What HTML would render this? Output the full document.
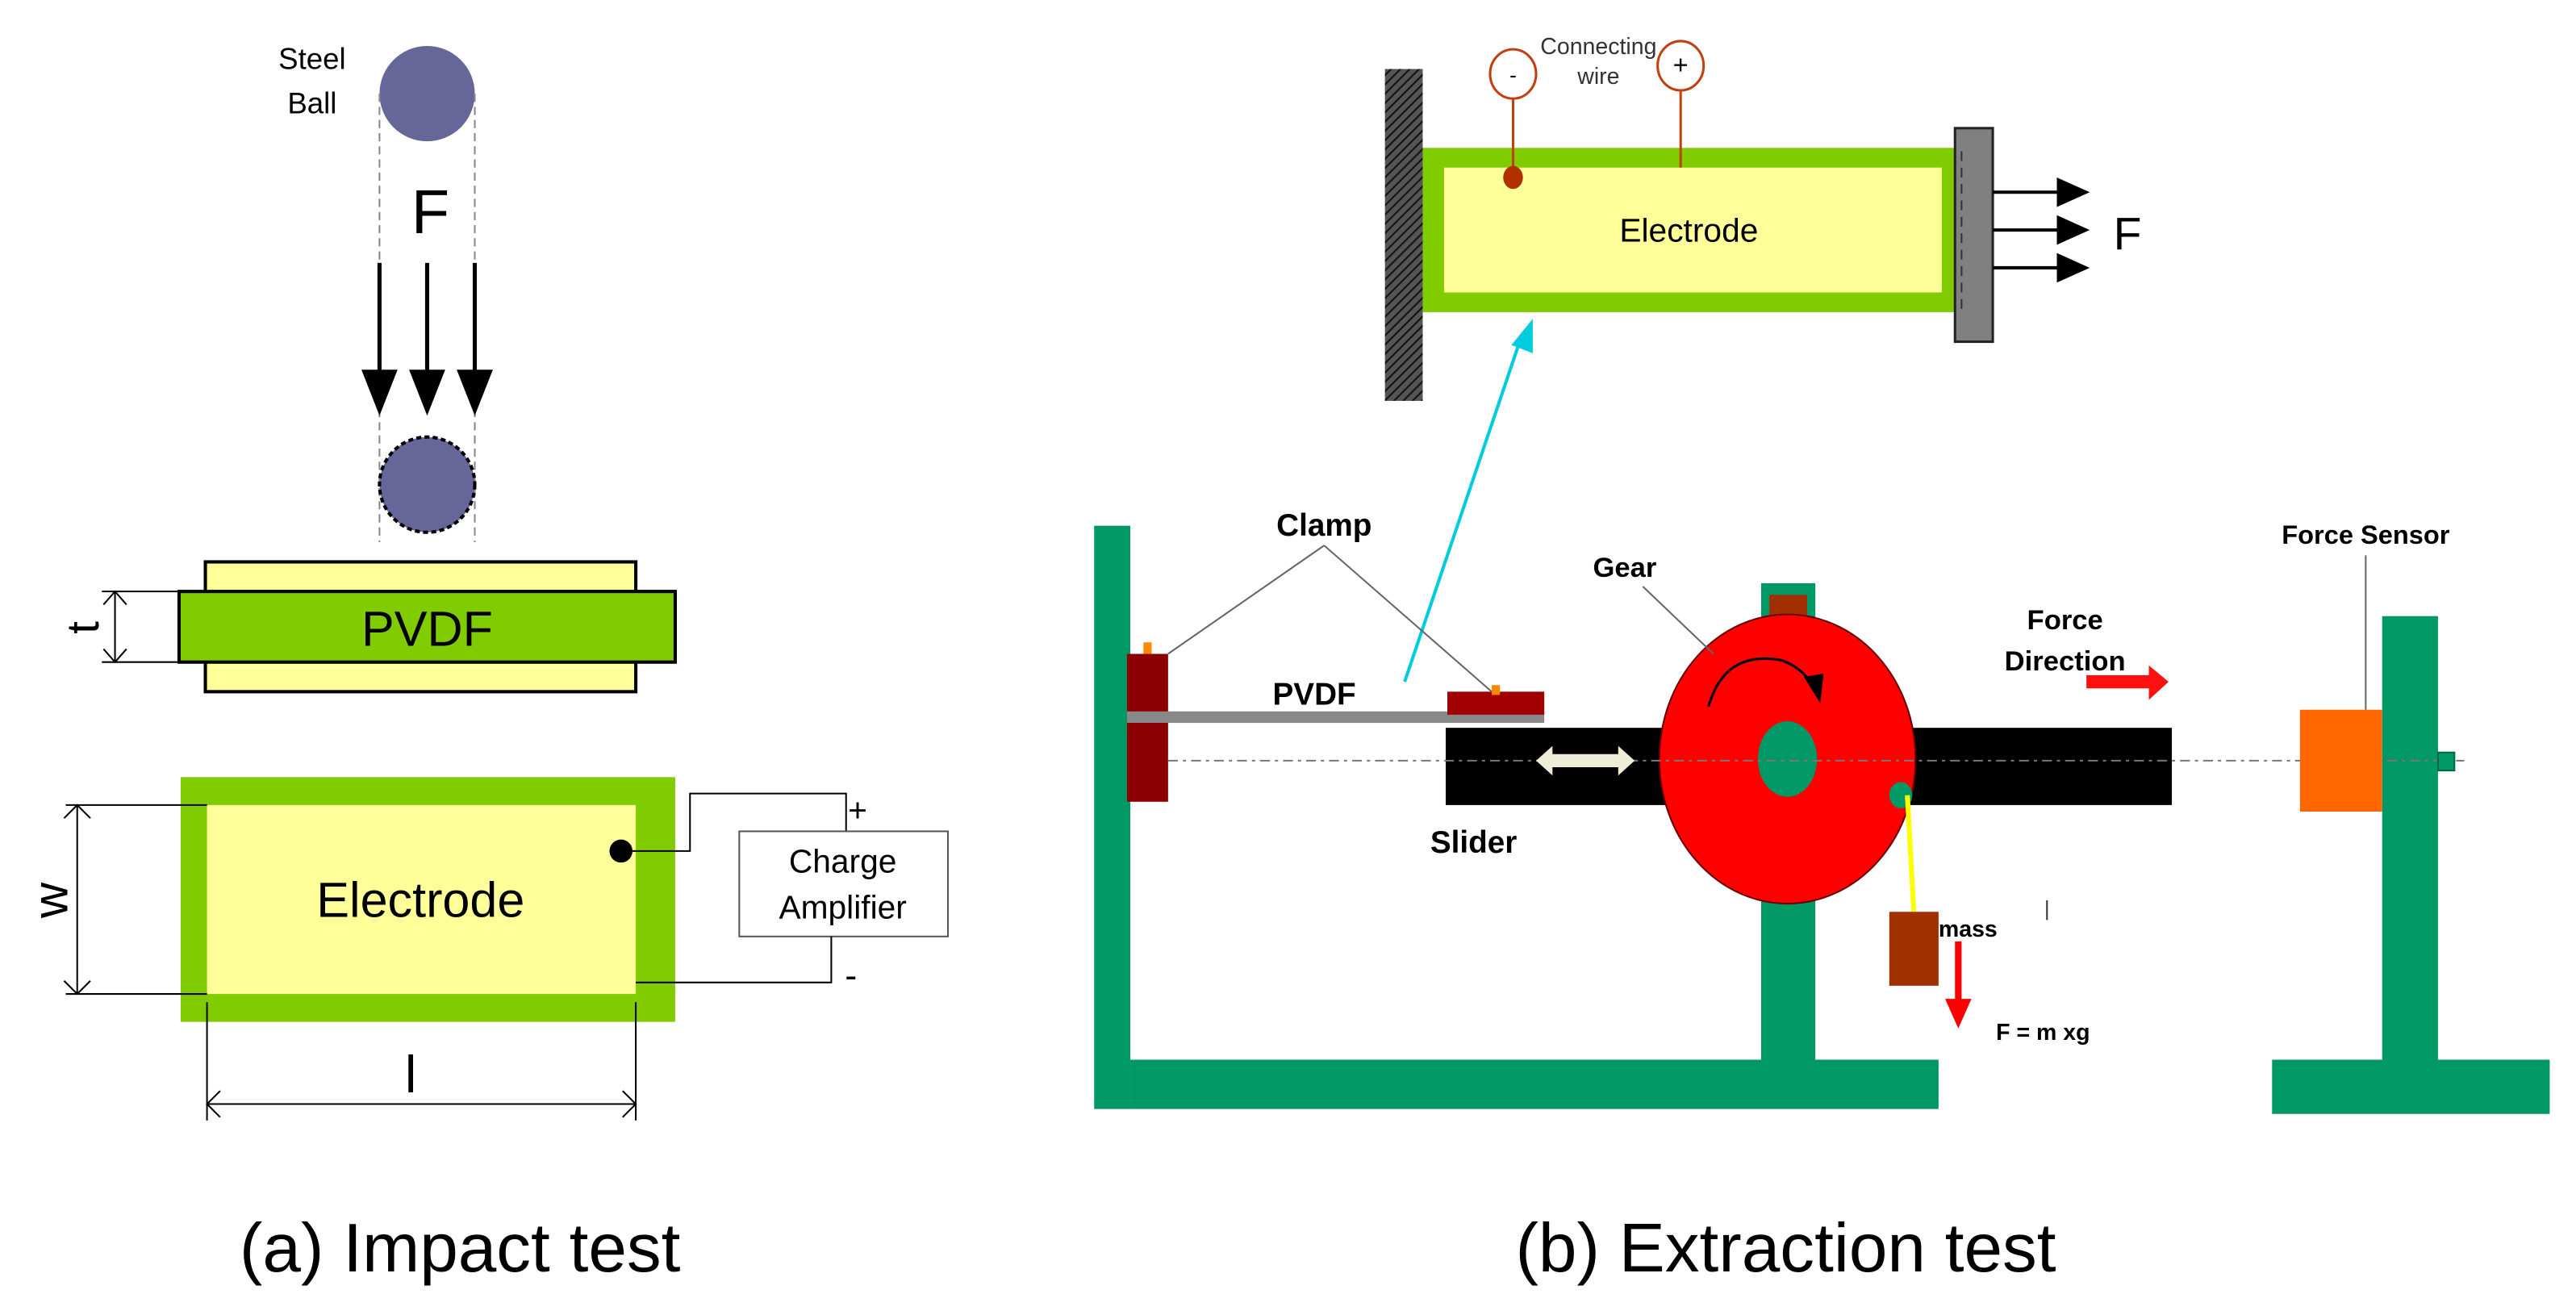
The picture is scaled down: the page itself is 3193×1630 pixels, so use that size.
<!DOCTYPE html>
<html><head><meta charset="utf-8"><style>
html,body{margin:0;padding:0;background:#fff;}
svg{display:block;}
text{font-family:"Liberation Sans",sans-serif;}
</style></head><body>
<svg width="3193" height="1630" viewBox="0 0 1568 800.4" preserveAspectRatio="none" xmlns="http://www.w3.org/2000/svg">
<defs>
<pattern id="hatch" width="4" height="4" patternUnits="userSpaceOnUse" patternTransform="rotate(45)">
<rect width="4" height="4" fill="#555"/><line x1="0" y1="0" x2="0" y2="4" stroke="#111" stroke-width="2"/>
</pattern>
</defs>
<rect width="1568" height="800.4" fill="#fff"/>

<!-- (a) -->
<text x="190" y="42" font-size="18" text-anchor="middle">Steel</text>
<text x="190" y="69" font-size="18" text-anchor="middle">Ball</text>
<circle cx="260" cy="57" r="29" fill="#666699"/>
<line x1="231" y1="57" x2="231" y2="330" stroke="#888" stroke-dasharray="5,3"/>
<line x1="289" y1="57" x2="289" y2="330" stroke="#888" stroke-dasharray="5,3"/>
<text x="262" y="142" font-size="38" text-anchor="middle">F</text>
<g stroke="#000" stroke-width="2.5">
<line x1="231" y1="160" x2="231" y2="232"/><line x1="260" y1="160" x2="260" y2="232"/><line x1="289" y1="160" x2="289" y2="232"/>
</g>
<g fill="#000">
<polygon points="220,225 242,225 231,253"/><polygon points="249,225 271,225 260,253"/><polygon points="278,225 300,225 289,253"/>
</g>
<circle cx="260" cy="295" r="29" fill="#666699" stroke="#000" stroke-width="2" stroke-dasharray="3,2"/>

<rect x="125" y="342" width="262" height="79" fill="#FFFF99" stroke="#000" stroke-width="2"/>
<rect x="109" y="360" width="302" height="43" fill="#80CC00" stroke="#000" stroke-width="2"/>
<text x="260" y="393" font-size="30" text-anchor="middle">PVDF</text>
<g stroke="#000" stroke-width="1" fill="none">
<line x1="62" y1="360" x2="109" y2="360"/><line x1="62" y1="403" x2="109" y2="403"/>
<line x1="70" y1="360" x2="70" y2="403"/>
<polyline points="63,368 70,360 77,368"/><polyline points="63,395 70,403 77,395"/>
</g>
<text x="0" y="0" font-size="28" text-anchor="middle" transform="translate(60,382) rotate(-90)">t</text>

<rect x="110" y="473" width="301" height="149" fill="#80CC00"/>
<rect x="126" y="490" width="261" height="115" fill="#FFFF99"/>
<text x="256" y="558" font-size="30" text-anchor="middle">Electrode</text>
<g stroke="#000" stroke-width="1" fill="none">
<line x1="40" y1="490" x2="126" y2="490"/><line x1="40" y1="605" x2="126" y2="605"/>
<line x1="47" y1="490" x2="47" y2="605"/>
<polyline points="39,498 47,490 55,498"/><polyline points="39,597 47,605 55,597"/>
<line x1="126" y1="610" x2="126" y2="682"/><line x1="387" y1="610" x2="387" y2="682"/>
<line x1="126" y1="672" x2="387" y2="672"/>
<polyline points="134,664 126,672 134,680"/><polyline points="379,664 387,672 379,680"/>
</g>
<text x="0" y="0" font-size="30" text-anchor="middle" transform="translate(41,548) rotate(-90)">w</text>
<text x="250" y="665" font-size="32" text-anchor="middle">l</text>
<circle cx="378" cy="518" r="7" fill="#000"/>
<polyline points="385,518 420,518 420,483 515,483 515,506" fill="none" stroke="#000"/>
<text x="522" y="500" font-size="20" text-anchor="middle">+</text>
<rect x="450" y="506" width="127" height="64" fill="#fff" stroke="#555"/>
<text x="513" y="531" font-size="20" text-anchor="middle">Charge</text>
<text x="513" y="559" font-size="20" text-anchor="middle">Amplifier</text>
<polyline points="387,598 506,598 506,570" fill="none" stroke="#000"/>
<text x="518" y="601" font-size="22" text-anchor="middle">-</text>

<text x="280" y="774" font-size="42" text-anchor="middle">(a)  Impact test</text>
<text x="1087" y="774" font-size="42" text-anchor="middle">(b) Extraction test</text>

<!-- (b) top -->
<rect x="843" y="42" width="23" height="202" fill="url(#hatch)"/>
<rect x="866" y="90" width="324" height="100" fill="#80CC00"/>
<rect x="879" y="102" width="303" height="76" fill="#FFFF99"/>
<text x="1028" y="147" font-size="20" text-anchor="middle">Electrode</text>
<rect x="1190" y="78" width="23" height="130" fill="#808080" stroke="#222" stroke-width="1.5"/>
<line x1="1194" y1="92" x2="1194" y2="190" stroke="#333" stroke-dasharray="6,4"/>
<g stroke="#000" stroke-width="2"><line x1="1213" y1="117" x2="1255" y2="117"/><line x1="1213" y1="140" x2="1255" y2="140"/><line x1="1213" y1="163" x2="1255" y2="163"/></g>
<g fill="#000"><polygon points="1252,108 1272,117 1252,126"/><polygon points="1252,131 1272,140 1252,149"/><polygon points="1252,154 1272,163 1252,172"/></g>
<text x="1295" y="152" font-size="28" text-anchor="middle">F</text>
<g stroke="#C04010" stroke-width="1.5" fill="none">
<ellipse cx="921" cy="45" rx="14" ry="15"/><ellipse cx="1023" cy="40" rx="14" ry="15"/>
<line x1="921" y1="60" x2="921" y2="108"/><line x1="1023" y1="55" x2="1023" y2="102"/>
</g>
<ellipse cx="921" cy="108" rx="6" ry="7" fill="#B03000"/>
<text x="921" y="50" font-size="13" text-anchor="middle">-</text>
<text x="1023" y="45" font-size="16" text-anchor="middle">+</text>
<text x="973" y="33" font-size="14" text-anchor="middle" fill="#333">Connecting</text>
<text x="973" y="51" font-size="14" text-anchor="middle" fill="#333">wire</text>
<line x1="855" y1="415" x2="926" y2="205" stroke="#00CCDD" stroke-width="2"/>
<polygon points="920,210 933,194 933,215" fill="#00CCDD"/>

<!-- (b) bottom -->
<rect x="666" y="320" width="22" height="355" fill="#009966"/>
<rect x="688" y="645" width="492" height="30" fill="#009966"/>
<rect x="1072" y="355" width="33" height="290" fill="#009966"/>
<rect x="1077" y="362" width="23" height="13" fill="#A03000"/>
<rect x="1450" y="375" width="34" height="270" fill="#009966"/>
<rect x="1383" y="645" width="169" height="33" fill="#009966"/>
<rect x="880" y="443" width="442" height="47" fill="#000"/>
<ellipse cx="1088" cy="462" rx="78" ry="88" fill="#FF0000" stroke="#600" stroke-width="1"/>
<path d="M1040,430 Q1050,395 1085,402 Q1100,408 1104,420" fill="none" stroke="#000" stroke-width="1.5"/>
<polygon points="1098,412 1110,410 1108,428" fill="#000"/>
<ellipse cx="1088" cy="462" rx="18" ry="23" fill="#009966"/>
<ellipse cx="1157" cy="484" rx="7" ry="8" fill="#009966"/>
<line x1="1161" y1="484" x2="1165" y2="556" stroke="#FFFF00" stroke-width="3"/>
<rect x="1150" y="555" width="30" height="45" fill="#A03000"/>
<text x="1180" y="570" font-size="14" font-weight="bold">mass</text>
<line x1="1192" y1="573" x2="1192" y2="610" stroke="#F00" stroke-width="4"/>
<polygon points="1184,608 1200,608 1192,626" fill="#F00"/>
<text x="1215" y="633" font-size="14" font-weight="bold">F = m xg</text>
<line x1="1246" y1="548" x2="1246" y2="560" stroke="#333"/>
<rect x="686" y="398" width="25" height="90" fill="#8B0000"/>
<rect x="696" y="391" width="5" height="7" fill="#F80"/>
<rect x="686" y="433" width="254" height="7" fill="#888"/>
<rect x="881" y="421" width="59" height="14" fill="#A00000"/>
<rect x="908" y="417" width="5" height="6" fill="#F80"/>
<line x1="711" y1="463" x2="1500" y2="463" stroke="#777" stroke-dasharray="6,3,2,3"/>
<polygon points="935,463 945,454 945,459 985,459 985,454 995,463 985,472 985,467 945,467 945,472" fill="#EEEED8"/>
<rect x="1400" y="432" width="50" height="62" fill="#FF6600"/>
<rect x="1484" y="458" width="10" height="11" fill="#009966" stroke="#006644"/>
<g stroke="#666" stroke-width="1">
<line x1="806" y1="332" x2="711" y2="398"/><line x1="806" y1="332" x2="908" y2="421"/>
<line x1="1000" y1="357" x2="1043" y2="398"/>
<line x1="1440" y1="338" x2="1440" y2="432"/>
</g>
<g font-weight="bold" font-size="19">
<text x="806" y="326" text-anchor="middle">Clamp</text>
<text x="800" y="429" text-anchor="middle">PVDF</text>
<text x="989" y="351" text-anchor="middle" font-size="17">Gear</text>
<text x="1257" y="383" text-anchor="middle" font-size="17">Force</text>
<text x="1257" y="408" text-anchor="middle" font-size="17">Direction</text>
<text x="897" y="519" text-anchor="middle">Slider</text>
<text x="1440" y="331" text-anchor="middle" font-size="16">Force Sensor</text>
</g>
<polygon points="1270,411 1308,411 1308,405 1320,415 1308,426 1308,419 1270,419" fill="#FF1010"/>
</svg>
</body></html>
